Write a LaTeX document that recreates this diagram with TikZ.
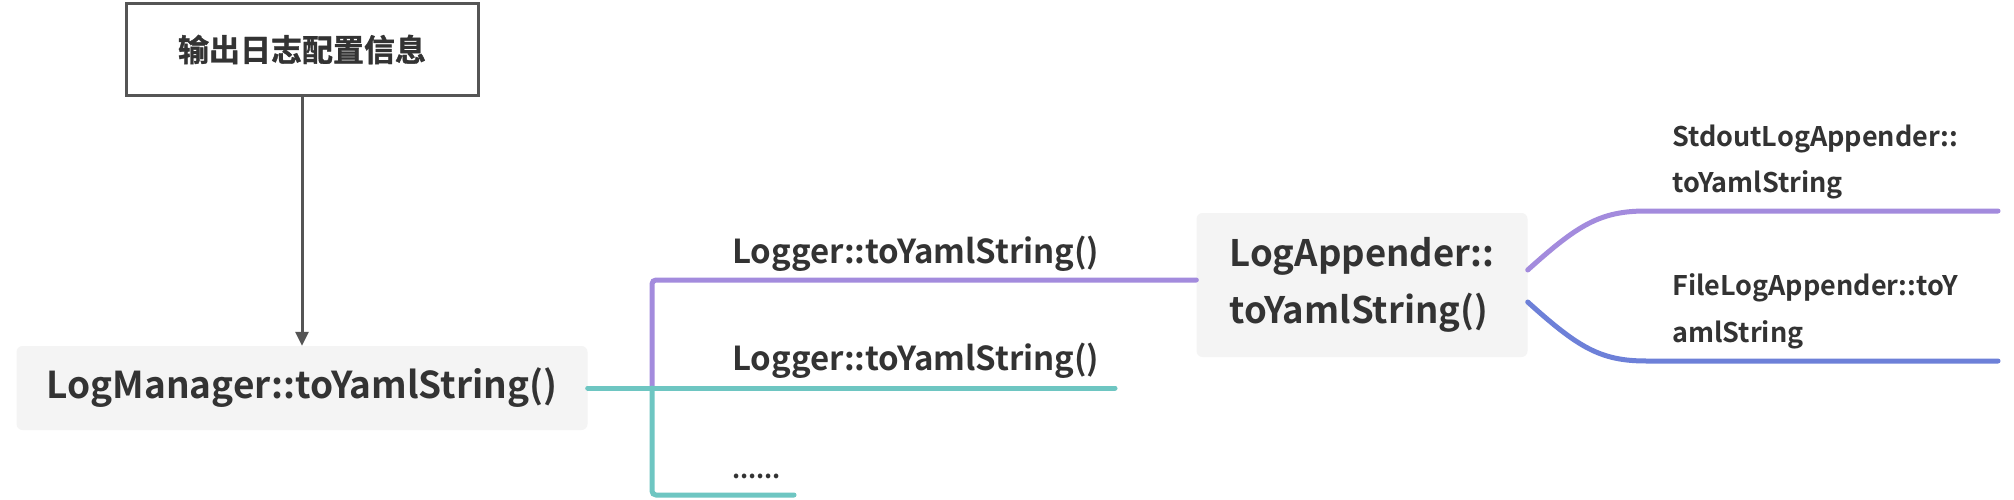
\documentclass[tikz,border=0pt]{standalone}
\usepackage{fontspec}
\setmainfont{Noto Sans CJK SC}[BoldFont={Noto Sans CJK SC Bold}]
\newfontfamily\cjkheavy{Noto Sans CJK SC Bold}[FakeBold=1.2]
\usetikzlibrary{arrows.meta}
\definecolor{txt}{HTML}{333333}
\definecolor{gline}{HTML}{555555}
\definecolor{boxfill}{HTML}{F4F4F4}
\definecolor{purp}{HTML}{A38BDD}
\definecolor{tealc}{HTML}{6EC6C2}
\definecolor{bluc}{HTML}{6D80D8}
\begin{document}
\begin{tikzpicture}[x=1pt,y=-1pt,
 every node/.style={text=txt,inner sep=0pt},
 topbox/.style={draw=gline,line width=3pt,fill=white,minimum width=352pt,minimum height=92pt,font=\cjkheavy\fontsize{31}{36}\selectfont},
 graybox/.style={fill=boxfill,rounded corners=6pt},
 lbl/.style={anchor=base west,align=left},
 big/.style={font=\bfseries\fontsize{37}{50}\selectfont},
 mid/.style={font=\bfseries\fontsize{33}{42}\selectfont},
 midb/.style={font=\bfseries\fontsize{36.5}{57}\selectfont},
 small/.style={font=\bfseries\fontsize{27}{47}\selectfont},
 dots/.style={font=\bfseries\fontsize{25}{30}\selectfont},
 branch/.style={line width=5pt,line cap=round,rounded corners=4pt}]
\useasboundingbox[fill=white] (0,0) rectangle (2014,500);
\node[topbox] (top) at (302,49.5) {输出日志配置信息};
\node[graybox,big,minimum width=571pt,minimum height=84pt] (lm) at (302,388) {LogManager::toYamlString()};
\node[graybox,midb,align=left,minimum width=331pt,minimum height=144pt] (la) at (1362,285) {LogAppender::\\toYamlString()};
\draw[gline,line width=3pt,-{Triangle[length=14pt,width=13pt]}] (top.south) -- (lm.north);
\coordinate (j) at (652,388);
\coordinate (p1) at (652,280);
\coordinate (b2) at (1115,388);
\coordinate (b3) at (794,495);
\coordinate (u1) at (1650,211);
\coordinate (u2) at (1998,211);
\coordinate (d1) at (1650,361);
\coordinate (d2) at (1998,361);
\draw[branch,purp] (j) -- (p1) -- (la.west |- p1);
\draw[branch,tealc] (lm.east) -- (j) -- (b2);
\draw[branch,tealc] (j) |- (b3);
\draw[branch,purp] ([yshift=15pt]la.east) .. controls +(50,-45) and +(-50,0) .. (u1) -- (u2);
\draw[branch,bluc] ([yshift=-17pt]la.east) .. controls +(50,45) and +(-50,0) .. (d1) -- (d2);
\node[lbl,mid] (l1) at (732,263) {Logger::toYamlString()};
\node[lbl,mid] (l2) at (732,370) {Logger::toYamlString()};
\node[lbl,dots] (l3) at (732,478) {......};
\node[lbl,small] (s1) at (1672,193) {StdoutLogAppender::\\toYamlString};
\node[lbl,small] (s2) at (1672,342) {FileLogAppender::toY\\amlString};
\end{tikzpicture}
\end{document}
